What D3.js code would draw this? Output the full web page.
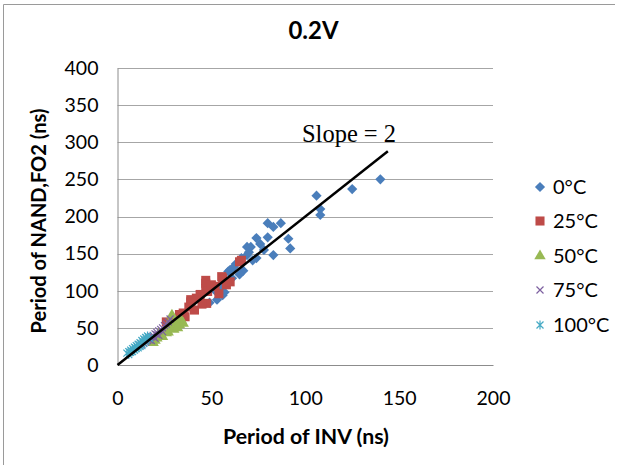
<!DOCTYPE html>
<html>
<head>
<meta charset="utf-8">
<script src="https://cdn.jsdelivr.net/npm/d3@7"></script>
<style>
  html, body { margin: 0; padding: 0; background: #fff; }
  svg { display: block; font-family: Lato, "Open Sans", "DejaVu Sans", sans-serif; }
</style>
</head>
<body>
<svg id="chart" width="619" height="465"></svg>
<script>
// Oscillation period of a NAND (fan-out 2) ring vs. an inverter ring at 0.2 V supply
const chartTitle = "0.2V";
const xTicks = [0, 50, 100, 150, 200];
const yTicks = [0, 50, 100, 150, 200, 250, 300, 350, 400];
const seriesNames = ["0°C", "25°C", "50°C", "75°C", "100°C"];

// [period of INV, period of NAND FO2] in ns
const temp0 = [
  [140, 250], [125, 237], [106, 228], [108, 210], [108, 202], [80, 191], [83, 186],
  [87, 191], [91, 170], [92, 157], [80, 172], [76, 163], [69, 159], [71, 159],
  [83, 148], [78, 155], [74, 144], [72, 141], [66, 144], [63, 136], [60, 128],
  [67, 127], [74, 171], [59, 126], [56, 94], [53, 88], [49, 84], [57, 98],
  [55, 104], [61, 117], [65, 122], [58, 110], [52, 100], [62, 132], [69, 148], [70, 152]
];
const temp25 = [
  [66, 141], [65, 139], [55.5, 119], [58, 108], [47, 114], [47, 110], [47, 103],
  [48, 99], [39, 88], [39, 85], [47.5, 83], [41, 74], [36, 65], [26, 58], [56, 117],
  [52, 106], [44, 95], [42, 90], [35, 70], [31, 62], [29, 60], [50, 108], [60, 112],
  [38, 78], [33, 68], [45, 82], [54, 96]
];
const temp50 = [
  [29, 67], [33, 54], [24, 38], [19, 30], [22, 42], [26, 48], [28, 50], [30, 55],
  [32, 58], [34, 60], [27, 44], [30, 48], [31, 52], [25, 45], [28, 58], [21, 36],
  [23, 40], [26, 43], [35, 56], [32, 50], [20, 33], [27, 53]
];
const temp75 = [
  [12, 26], [14, 30], [15, 32], [16, 33], [17, 36], [18, 38], [19, 40], [20, 42],
  [21, 44], [22, 46], [23, 48], [24, 50], [25, 53], [26, 55], [27, 58], [28, 62],
  [13, 28], [15, 31], [17, 34], [19, 38], [21, 41], [18, 33], [20, 36], [22, 40], [24, 45]
];
const temp100 = [
  [5, 16], [6, 18], [7, 20], [8, 22], [9, 24], [10, 26], [11, 28], [12, 30],
  [13, 33], [14, 35], [15, 37], [16, 39], [7, 17], [9, 20], [11, 23], [13, 26],
  [8, 18], [10, 22], [12, 25], [14, 29], [6, 14], [15, 32], [17, 36]
];
const allSeries = [temp0, temp25, temp50, temp75, temp100];
const colors = ["#4A7EBB", "#BE4B48", "#98B954", "#7D60A0", "#46AAC5"];

// reference line: NAND period = 2 x INV period
const slope = 2;
const slopeEnd = 144;

const svg = d3.select("#chart");
const x = d3.scaleLinear().domain([0, 200]).range([117.5, 493]);
const y = d3.scaleLinear().domain([0, 400]).range([365, 68]);

// scale a text element's font so the string spans the given width
function fitWidth(sel, width) {
  const fs = parseFloat(sel.attr("font-size"));
  const w = sel.node().getComputedTextLength();
  sel.attr("font-size", (fs * width / w).toFixed(2));
  return fs * width / w;
}

// chart frame
svg.append("path")
  .attr("d", "M3.5,465 V4.5 H615")
  .attr("fill", "none").attr("stroke", "#9a9a9a").attr("stroke-width", 1);

// title
svg.append("text").attr("x", 313.5).attr("y", 38.5)
  .attr("text-anchor", "middle").attr("font-weight", "bold").attr("font-size", 22)
  .text(chartTitle)
  .call(fitWidth, 50);

// horizontal gridlines
svg.append("g").selectAll("line").data(yTicks.filter(d => d > 0)).join("line")
  .attr("x1", x(0)).attr("x2", x(200))
  .attr("y1", d => Math.round(y(d)) + 0.5).attr("y2", d => Math.round(y(d)) + 0.5)
  .attr("stroke", "#a6a6a6").attr("stroke-width", 1);

// axes
const yAxis = svg.append("g").attr("transform", `translate(${x(0)},0)`)
  .call(d3.axisLeft(y).tickValues(yTicks).tickSize(0).tickPadding(19));
const xAxis = svg.append("g").attr("transform", `translate(0,${y(0)})`)
  .call(d3.axisBottom(x).tickValues(xTicks).tickSize(0).tickPadding(28));

// tick label size taken from the widest label, "400"
const probe = svg.append("text").attr("font-size", 20).text("400");
const tickFs = fitWidth(probe, 34);
probe.remove();
[yAxis, xAxis].forEach(g => {
  g.select(".domain").attr("stroke", "#8c8c8c");
  g.selectAll("text").attr("font-size", tickFs.toFixed(2)).attr("fill", "#000")
    .attr("font-family", "Lato, 'Open Sans', sans-serif");
});
xAxis.selectAll("text").attr("dy", "0.6em");

// axis titles
svg.append("text").attr("x", 306).attr("y", 444)
  .attr("text-anchor", "middle").attr("font-weight", "bold").attr("font-size", 20)
  .text("Period of INV (ns)")
  .call(fitWidth, 166);
svg.append("text").attr("transform", "translate(46,221) rotate(-90)")
  .attr("text-anchor", "middle").attr("font-weight", "bold").attr("font-size", 20)
  .text("Period of NAND,FO2 (ns)")
  .call(fitWidth, 225);

// marker shapes
const diamond = d3.symbol(d3.symbolSquare, 52)();
const square = d3.symbol(d3.symbolSquare, 82)();
const triangle = d3.symbol(d3.symbolTriangle, 56)();
const xMark = "M-3.5,-3.5L3.5,3.5M-3.5,3.5L3.5,-3.5";
const star = "M-3.5,-3.5L3.5,3.5M-3.5,3.5L3.5,-3.5M0,-4.5V4.5";
const shapes = [
  { d: diamond, rot: 45, filled: true },
  { d: square, rot: 0, filled: true },
  { d: triangle, rot: 0, filled: true },
  { d: xMark, rot: 0, filled: false },
  { d: star, rot: 0, filled: false }
];

function drawMarker(sel, i) {
  const s = shapes[i];
  sel.attr("d", s.d)
    .attr("fill", s.filled ? colors[i] : "none")
    .attr("stroke", s.filled ? "none" : colors[i])
    .attr("stroke-width", s.filled ? 0 : 1.2);
}

const plot = svg.append("g");
allSeries.forEach((pts, i) => {
  plot.append("g").selectAll("path").data(pts).join("path")
    .attr("transform", d => `translate(${x(d[0])},${y(d[1])}) rotate(${shapes[i].rot})`)
    .call(drawMarker, i);
});

// slope = 2 line
svg.append("line")
  .attr("x1", x(0)).attr("y1", y(0))
  .attr("x2", x(slopeEnd)).attr("y2", y(slope * slopeEnd))
  .attr("stroke", "#000").attr("stroke-width", 2.5);
svg.append("text").attr("x", 302).attr("y", 142)
  .attr("font-family", "'Liberation Serif', 'Times New Roman', serif")
  .attr("font-size", 24).text("Slope = " + slope)
  .call(fitWidth, 94);

// legend
const legendY = [187, 221, 256, 290, 325];
const legend = svg.append("g");
seriesNames.forEach((name, i) => {
  legend.append("path")
    .attr("transform", `translate(540,${legendY[i]}) rotate(${shapes[i].rot})`)
    .call(drawMarker, i);
  legend.append("text").attr("x", 553).attr("y", legendY[i]).attr("dy", "0.35em")
    .attr("font-size", 20).text(name);
});
</script>
</body>
</html>
